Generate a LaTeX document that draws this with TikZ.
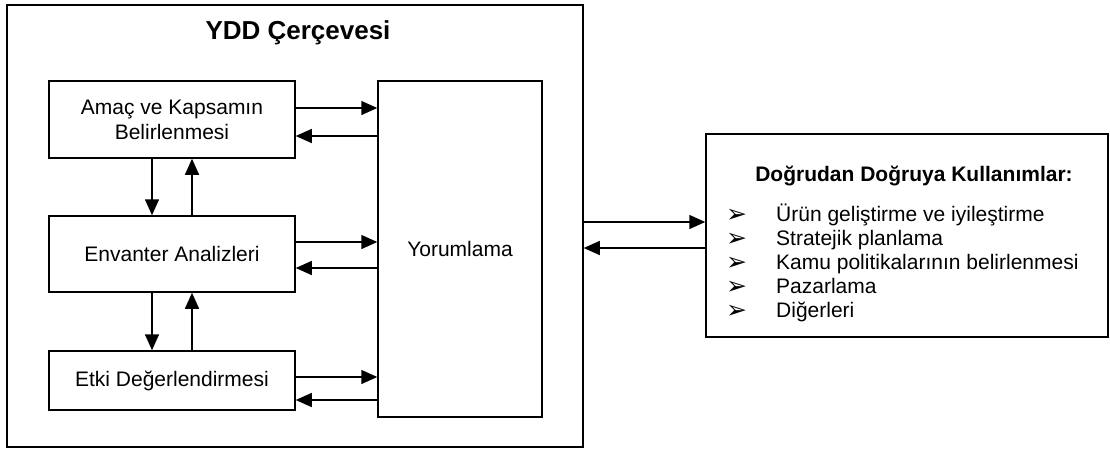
\documentclass[tikz,border=0pt]{standalone}
\usepackage{fontspec}
\setmainfont{Liberation Sans}
\newfontfamily\dejavu{DejaVu Sans}
\usetikzlibrary{arrows.meta}
\newcommand{\bul}{\raisebox{-1pt}{\dejavu\fontsize{25}{25}\selectfont ➢}}
\begin{document}
\begin{tikzpicture}[x=1pt,y=-1pt,
  box/.style={draw, line width=1.5pt, rectangle, inner sep=0pt, align=center,
    font=\fontsize{21}{25}\selectfont},
  arr/.style={line width=1.5pt, -{Triangle[length=16pt,width=14pt]}}]
\useasboundingbox (0,0) rectangle (1110,448);
\node[box, minimum width=576pt, minimum height=442pt] (frame) at (295,226) {};
\node[font=\bfseries\fontsize{26}{30}\selectfont] (title) at (298,33) {YDD Çerçevesi};
\node[box, minimum width=246pt, minimum height=77pt] (amac) at (172,119.5) {Amaç ve Kapsamın\\Belirlenmesi};
\node[box, minimum width=246pt, minimum height=76pt] (env) at (172,254) {Envanter Analizleri};
\node[box, minimum width=246pt, minimum height=59pt] (etki) at (172,380.5) {\raisebox{3pt}{Etki Değerlendirmesi}};
\node[box, minimum width=164pt, minimum height=336pt] (yor) at (460,249) {Yorumlama};
\node[box, minimum width=402pt, minimum height=203pt] (right) at (907,235.5) {};
\node[font=\bfseries\fontsize{21}{25}\selectfont] (rtitle) at (914,176) {Doğrudan Doğruya Kullanımlar:};
\node[anchor=north west, inner sep=0pt, align=left, font=\fontsize{21}{24}\selectfont] (list) at (726,204)
 {\makebox[50pt][l]{\bul}Ürün geliştirme ve iyileştirme\\
  \makebox[50pt][l]{\bul}Stratejik planlama\\
  \makebox[50pt][l]{\bul}Kamu politikalarının belirlenmesi\\
  \makebox[50pt][l]{\bul}Pazarlama\\
  \makebox[50pt][l]{\bul}Diğerleri};
% horizontal arrows to/from Yorumlama
\draw[arr] (amac.east |- 0,108) -- (yor.west |- 0,108);
\draw[arr] (yor.west |- 0,136) -- (amac.east |- 0,136);
\draw[arr] (env.east |- 0,242) -- (yor.west |- 0,242);
\draw[arr] (yor.west |- 0,268) -- (env.east |- 0,268);
\draw[arr] (etki.east |- 0,377) -- (yor.west |- 0,377);
\draw[arr] (yor.west |- 0,400) -- (etki.east |- 0,400);
% vertical arrows
\draw[arr] (amac.south -| 152,0) -- (env.north -| 152,0);
\draw[arr] (env.north -| 192,0) -- (amac.south -| 192,0);
\draw[arr] (env.south -| 152,0) -- (etki.north -| 152,0);
\draw[arr] (etki.north -| 192,0) -- (env.south -| 192,0);
% frame to right box
\draw[arr] (frame.east |- 0,222) -- (right.west |- 0,222);
\draw[arr] (right.west |- 0,248) -- (frame.east |- 0,248);
\end{tikzpicture}
\end{document}
